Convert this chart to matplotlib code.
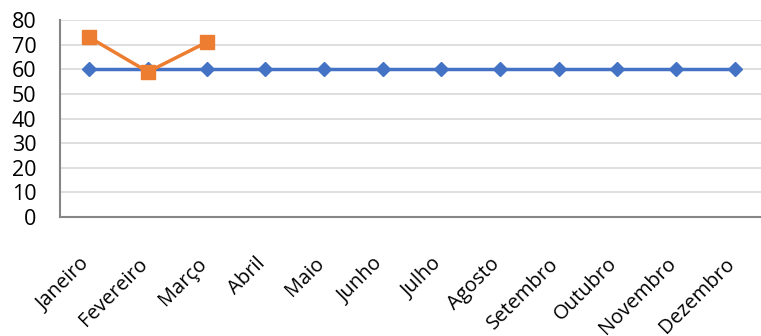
import matplotlib
matplotlib.use('Agg')
import matplotlib.pyplot as plt
import matplotlib.transforms as mtransforms

meses = ['Janeiro', 'Fevereiro', 'Março', 'Abril', 'Maio', 'Junho', 'Julho',
         'Agosto', 'Setembro', 'Outubro', 'Novembro', 'Dezembro']
meta = [60] * 12
realizado = [73, 59, 71]
y_ticks = [0, 10, 20, 30, 40, 50, 60, 70, 80]

plt.rcParams['font.family'] = ['Open Sans', 'DejaVu Sans']

fig = plt.figure(figsize=(7.61, 3.36), dpi=100)
ax = fig.add_axes([0.0788, 0.354, 0.925, 0.586])

x = list(range(len(meses)))
ax.plot(x, meta, color='#4472C4', lw=2.5, marker='D', ms=7, zorder=3)
ax.plot(x[:len(realizado)], realizado, color='#ED7D31', lw=2.5, marker='s',
        ms=10, zorder=4)

ax.set_xlim(-0.5, len(meses) - 0.5)
ax.set_ylim(0, 80)
ax.set_yticks(y_ticks)
ax.set_yticklabels([str(v) for v in y_ticks], fontsize=15.5)
ax.set_xticks(x)
ax.set_xticklabels(meses, rotation=45, ha='right', rotation_mode='anchor',
                   fontsize=14.5)
ax.tick_params(axis='both', length=0)
ax.tick_params(axis='y', pad=17)
ax.tick_params(axis='x', pad=20)

# nudge month labels a bit left and down
shift = mtransforms.ScaledTranslation(-10 / 100, -9 / 100, fig.dpi_scale_trans)
for lbl in ax.get_xticklabels():
    lbl.set_transform(lbl.get_transform() + shift)

ax.grid(axis='y', color='#D9D9D9', lw=1.2)
ax.set_axisbelow(True)
for s in ['top', 'right']:
    ax.spines[s].set_visible(False)
for s in ['left', 'bottom']:
    ax.spines[s].set_color('#868686')
    ax.spines[s].set_linewidth(1.5)

fig.savefig('out.png', dpi=100)
